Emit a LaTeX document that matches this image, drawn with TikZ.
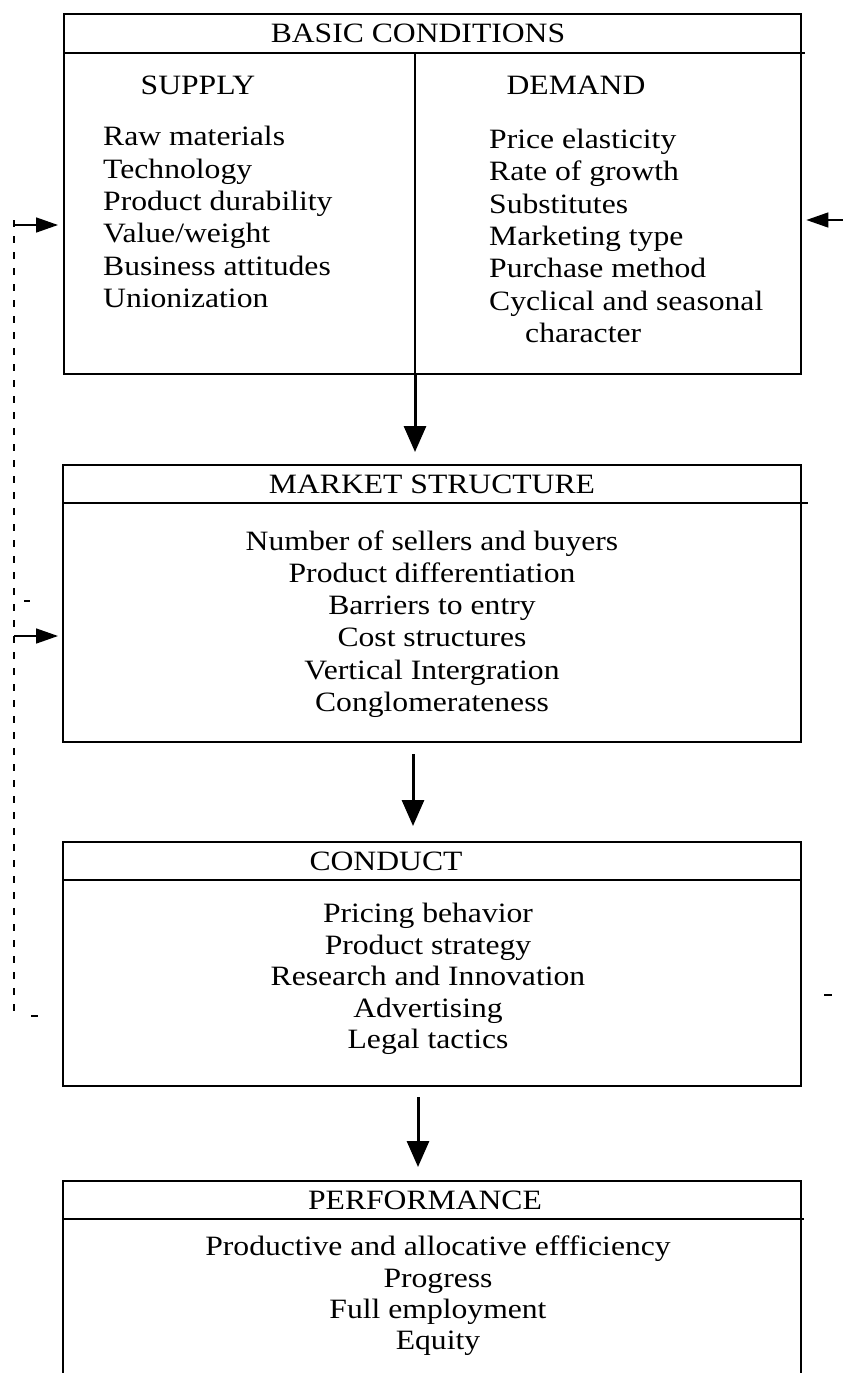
\documentclass[tikz,border=0pt]{standalone}
\usepackage{fontspec}
\setmainfont[FakeStretch=1.13]{Liberation Serif}
\usetikzlibrary{arrows.meta}
\begin{document}
\begin{tikzpicture}[x=1pt,y=1pt,
  box/.style={draw, line width=2.4pt, anchor=north west, inner sep=0pt},
  hline/.style={line width=2.2pt},
  txt/.style={font=\fontsize{28}{32.3}\selectfont, inner sep=0pt},
  ttl/.style={font=\fontsize{28}{32}\selectfont, inner sep=0pt},
  flow/.style={line width=3pt, -{Triangle[width=22pt,length=26pt]}},
  fb/.style={line width=1.6pt, -{Triangle[width=15pt,length=22pt]}},
  fbdash/.style={line width=2.2pt, dash pattern=on 7pt off 9pt}]
\useasboundingbox (0,0) rectangle (843,-1373);
\fill[white] (0,0) rectangle (843,-1373);

% boxes
\node[box, minimum width=737pt, minimum height=360pt] (bc) at (63,-13) {};
\node[box, minimum width=738pt, minimum height=277pt] (ms) at (62,-464) {};
\node[box, minimum width=738pt, minimum height=244pt] (cd) at (62,-841) {};
\node[box, minimum width=738pt, minimum height=220pt] (pf) at (62,-1180) {};

% header lines
\coordinate (bch) at (63,-53);   \draw[hline] (bch) -- ++(742,0);
\coordinate (msh) at (62,-503);  \draw[hline] (msh) -- ++(746,0);
\coordinate (cdh) at (62,-880);  \draw[hline] (cdh) -- ++(738,0);
\coordinate (pfh) at (62,-1219); \draw[hline] (pfh) -- ++(742,0);

% divider in basic conditions
\coordinate (dvt) at (415,-53);
\draw[line width=2pt] (dvt) -- (dvt |- bc.south);

% titles
\node[ttl] (t1) at (418,-33) {BASIC CONDITIONS};
\node[ttl] (t1s) at (198,-85) {SUPPLY};
\node[ttl] (t1d) at (576,-85) {DEMAND};
\node[ttl] (t2) at (432,-484) {MARKET STRUCTURE};
\node[ttl] (t3) at (386,-861) {CONDUCT};
\node[ttl] (t4) at (425,-1200) {PERFORMANCE};

% lists
\node[txt, align=left, anchor=west] (sup) at (103,-217) {Raw materials\\Technology\\Product durability\\Value/weight\\Business attitudes\\Unionization};
\node[txt, align=left, anchor=west] (dem) at (489,-236) {Price elasticity\\Rate of growth\\Substitutes\\Marketing type\\Purchase method\\Cyclical and seasonal\\\hspace*{36pt}character};
\node[txt, align=center] (msl) at (432,-624) {Number of sellers and buyers\\Product differentiation\\Barriers to entry\\Cost structures\\Vertical Intergration\\Conglomerateness};
\node[txt, align=center, font=\fontsize{28}{31.5}\selectfont] (cdl) at (428,-979) {Pricing behavior\\Product strategy\\Research and Innovation\\Advertising\\Legal tactics};
\node[txt, align=center, font=\fontsize{28}{31.3}\selectfont] (pfl) at (438,-1296) {Productive and allocative effficiency\\Progress\\Full employment\\Equity};

% main flow arrows
\draw[flow] (bc.south -| 415,0) -- ([yshift=12pt]ms.north -| 415,0);
\draw[flow] ([yshift=-11pt]ms.south -| 413,0) -- ([yshift=15pt]cd.north -| 413,0);
\draw[flow] ([yshift=-10pt]cd.south -| 418,0) -- ([yshift=13pt]pf.north -| 418,0);

% feedback on the left
\coordinate (fbtop) at (14,-220);
\coordinate (fbbot) at (14,-1015);
\draw[fbdash] (fbtop) -- (fbbot);
\coordinate (fa1) at (14,-225);
\coordinate (fa2) at (14,-636);
\draw[fb] (fa1) -- ([xshift=-5pt]fa1 -| bc.west);
\draw[fb] (fa2) -- ([xshift=-4pt]fa2 -| ms.west);
\coordinate (m1) at (24,-601);
\draw[line width=2pt] (m1) -- ++(6,0);
\coordinate (m2) at (31,-1016);
\draw[line width=2pt] (m2) -- ++(7,0);

% right side
\coordinate (ra) at (843,-220);
\draw[fb] (ra) -- ([xshift=4pt]ra -| bc.east);
\coordinate (m3) at (824,-995);
\draw[line width=2pt] (m3) -- ++(8,0);
\end{tikzpicture}
\end{document}
